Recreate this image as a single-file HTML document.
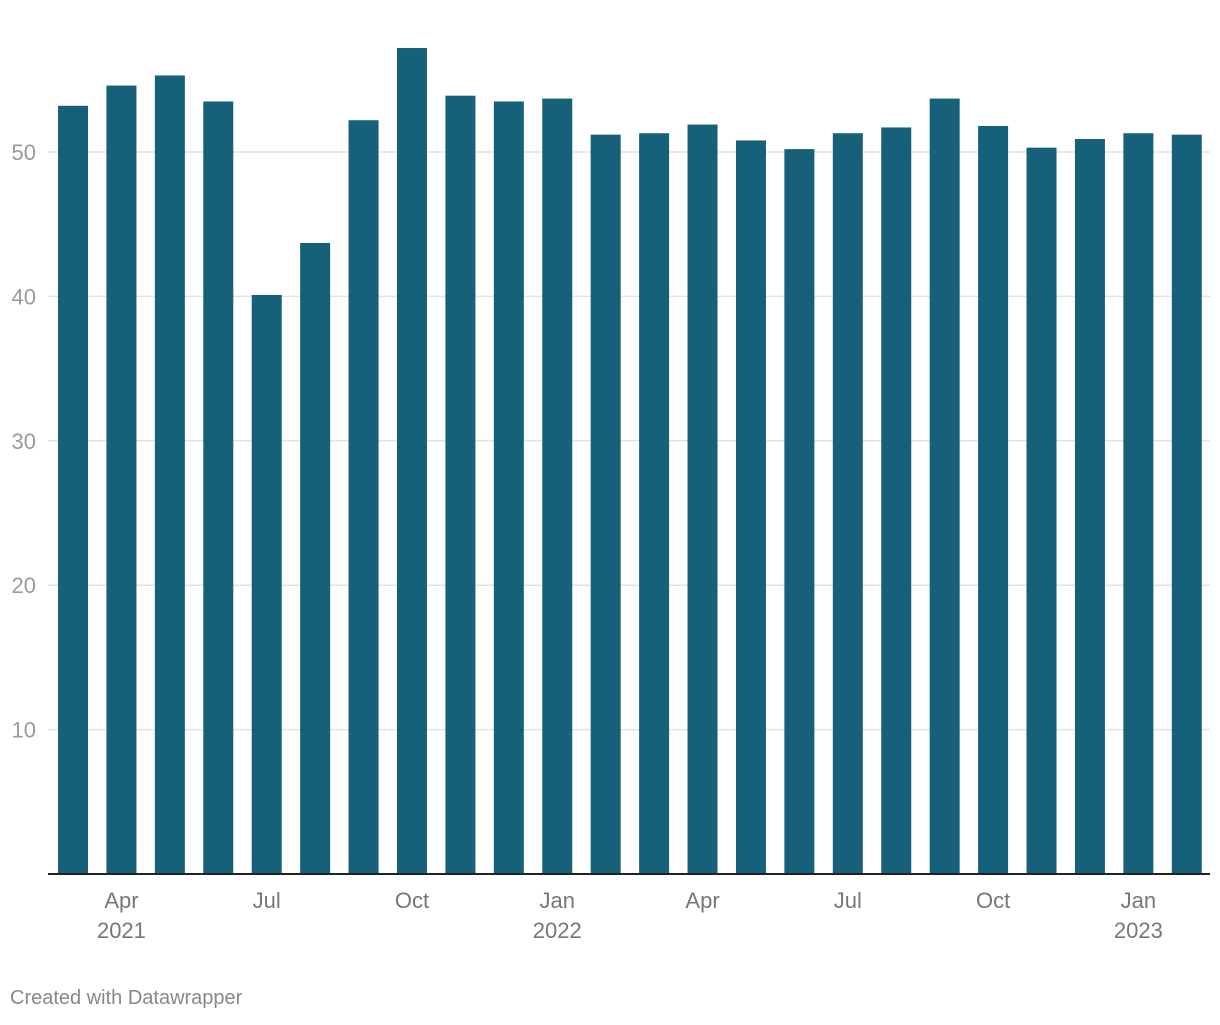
<!DOCTYPE html>
<html><head><meta charset="utf-8"><style>
body{margin:0;background:#fff;width:1220px;height:1020px;overflow:hidden;font-family:"Liberation Sans",sans-serif;}
</style></head><body>
<svg id="chart" width="1220" height="1020" xmlns="http://www.w3.org/2000/svg">
<g id="grid"></g>
<g id="ylabels"></g>
<g id="bars"></g>
<line x1="48" x2="1210" y1="874" y2="874" stroke="#222" stroke-width="2"/>
<g id="xlabels"></g>
<text x="10" y="1004" font-size="20" fill="#888">Created with Datawrapper</text>
</svg>
<script>
const categories=["2021-03","2021-04","2021-05","2021-06","2021-07","2021-08","2021-09","2021-10","2021-11","2021-12","2022-01","2022-02","2022-03","2022-04","2022-05","2022-06","2022-07","2022-08","2022-09","2022-10","2022-11","2022-12","2023-01","2023-02"];
const values=[53.2,54.6,55.3,53.5,40.1,43.7,52.2,57.2,53.9,53.5,53.7,51.2,51.3,51.9,50.8,50.2,51.3,51.7,53.7,51.8,50.3,50.9,51.3,51.2];
const yTicks=[10,20,30,40,50];
const xTickIdx=[1,4,7,10,13,16,19,22];
const xTickLabels=["Apr","Jul","Oct","Jan","Apr","Jul","Oct","Jan"];
const xTickYears=["2021","","","2022","","","","2023"];
const NS="http://www.w3.org/2000/svg";
const x0=48.8,x1=1211,y0=874,yTop=152,vTop=50;
const band=(x1-x0)/categories.length;
const xc=i=>x0+band*(i+0.5);
const y=v=>y0-(v/vTop)*(y0-yTop);
const grid=document.getElementById('grid'),yl=document.getElementById('ylabels'),bars=document.getElementById('bars'),xl=document.getElementById('xlabels');
yTicks.forEach(t=>{
  const l=document.createElementNS(NS,'line');
  
  
  l.setAttribute('x1',48);l.setAttribute('x2',1210);l.setAttribute('y1',y(t));l.setAttribute('y2',y(t));
  l.setAttribute('stroke','#e3e3e3');l.setAttribute('stroke-width','1.5');grid.appendChild(l);
  const tx=document.createElementNS(NS,'text');
  
  
  tx.setAttribute('x',36);tx.setAttribute('y',y(t)+8);tx.setAttribute('text-anchor','end');
  tx.setAttribute('font-size','22');tx.setAttribute('fill','#9a9a9a');tx.textContent=t;yl.appendChild(tx);
});
values.forEach((v,i)=>{
  const r=document.createElementNS(NS,'rect');
  
  
  r.setAttribute('x',xc(i)-15);r.setAttribute('width',30);
  r.setAttribute('y',y(v));r.setAttribute('height',y0-y(v));
  r.setAttribute('fill','#16607a');bars.appendChild(r);
});
xTickIdx.forEach((idx,k)=>{
  const t=document.createElementNS(NS,'text');
  
  
  t.setAttribute('x',xc(idx));t.setAttribute('y',908);t.setAttribute('text-anchor','middle');
  t.setAttribute('font-size','22');t.setAttribute('fill','#777');t.textContent=xTickLabels[k];xl.appendChild(t);
  if(xTickYears[k]){
    const t2=document.createElementNS(NS,'text');
    
    
    t2.setAttribute('x',xc(idx));t2.setAttribute('y',938);t2.setAttribute('text-anchor','middle');
    t2.setAttribute('font-size','22');t2.setAttribute('fill','#777');t2.textContent=xTickYears[k];xl.appendChild(t2);
  }
});
</script>
</body></html>
